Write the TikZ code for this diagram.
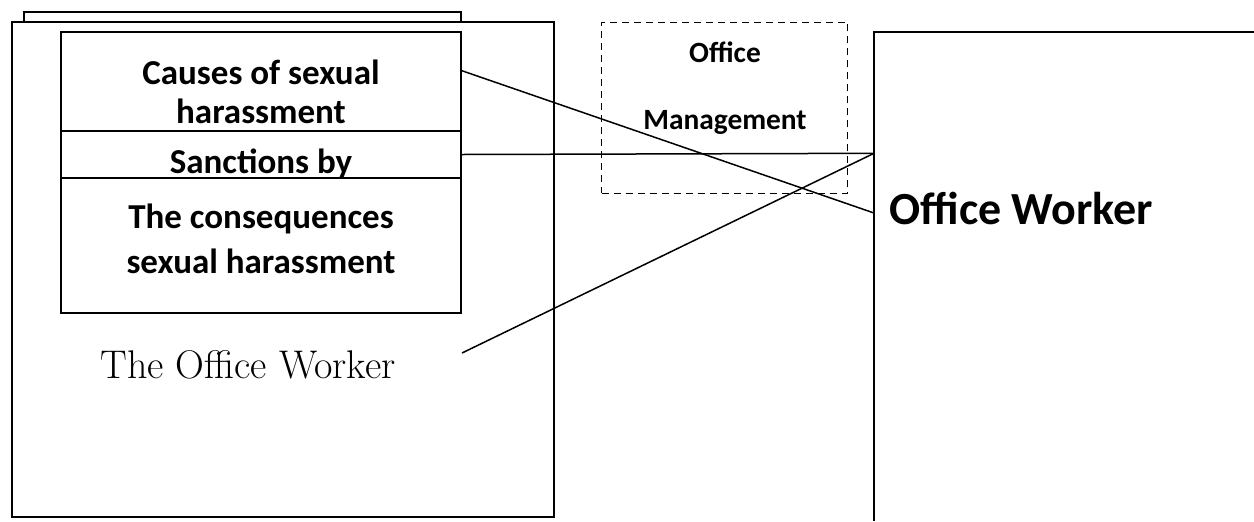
\documentclass[tikz,border=0pt]{standalone}
\usepackage{fontspec}
\newfontfamily\labelfont{Carlito}
\tikzstyle{sheet}=[line width=0.85pt]
\tikzstyle{section}=[rectangle, draw, line width=0.85pt, minimum width=200pt, inner sep=0pt]
\tikzstyle{mgmt}=[rectangle, draw, dash pattern=on 3.5pt off 2.5pt, line width=0.75pt, minimum width=123pt, minimum height=85.5pt]
\tikzstyle{link}=[line width=0.75pt]
\tikzstyle{txt}=[anchor=base, font=\labelfont\bfseries\fontsize{17.5}{20}\selectfont]
\tikzstyle{mgmttxt}=[anchor=base, font=\labelfont\bfseries\fontsize{14.7}{17}\selectfont]
\tikzstyle{bigtxt}=[anchor=base west, inner sep=0pt, font=\labelfont\bfseries\fontsize{23}{26}\selectfont]
\tikzstyle{handtxt}=[anchor=base west, inner sep=0pt, font=\fontsize{20}{24}\selectfont]

\begin{document}
\begin{tikzpicture}[x=0.5pt, y=-0.5pt]
\useasboundingbox (0,0) rectangle (1254,521);

% the two sheets on the left
\draw[sheet] (24,22.3) -- (24,12) -- (461,12) -- (461,22.3);
\draw[sheet] (11.7,22.3) rectangle (554,517);

% the three topics
\draw (261,81.5) node[section, minimum height=49.5pt] (causes) {};
\draw (261,154.5) node[section, minimum height=23.5pt] (sanctions) {};
\draw (261,245.5) node[section, minimum height=67.5pt] (consequences) {};
\draw (261,84) node[txt] {Causes of sexual};
\draw (261,123) node[txt] {harassment};
\draw (261,173) node[txt] {Sanctions by};
\draw (261,228) node[txt] {The consequences};
\draw (261,273) node[txt] {sexual harassment};
\draw (100,378) node[handtxt] {The Office Worker};

% management in between
\draw (724.7,107.8) node[mgmt] (mgmt) {};
\draw (725,62) node[mgmttxt] {Office};
\draw (725,129) node[mgmttxt] {Management};

% the worker on the right
\draw[sheet] (874,521) -- (874,31.7) -- (1254,31.7);
\draw (889,224) node[bigtxt] {Office Worker};
\coordinate (w1) at (874,213);
\coordinate (w2) at (874,153.3);
\coordinate (tail) at (462,353);

\draw[link] ([yshift=5.4pt]causes.east) -- (w1);
\draw[link] (sanctions.east) -- (w2);
\draw[link] (tail) -- (w2);
\end{tikzpicture}
\end{document}
